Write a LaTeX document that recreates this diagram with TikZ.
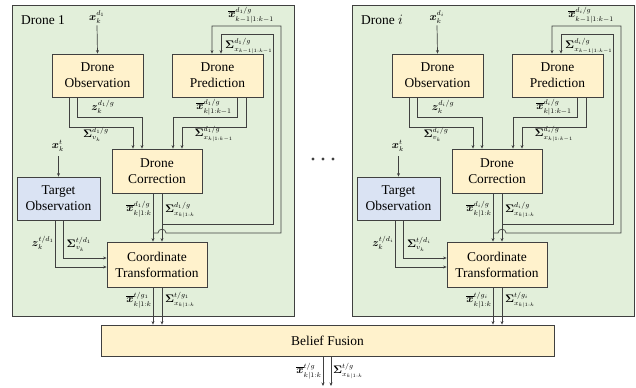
\documentclass[tikz,border=0pt]{standalone}
\usepackage{amsmath,bm}
\usepackage{fontspec}
\setmainfont{Liberation Serif}
\usetikzlibrary{arrows.meta}
\definecolor{panelfill}{HTML}{E2EFDA}
\definecolor{boxfill}{HTML}{FFF2CC}
\definecolor{tgtfill}{HTML}{DAE3F3}
\definecolor{linec}{HTML}{404040}
\newcommand\bxv{\bm{x}}
\newcommand\bzv{\bm{z}}
\newcommand\bSig{\bm{\Sigma}}
\newcommand\xbv{\overline{\bm{x}}}
\tikzset{
 panel/.style={draw=linec, fill=panelfill, line width=0.9pt, inner sep=0pt},
 blockbox/.style={draw=linec, fill=boxfill, line width=0.8pt, align=center,
   font=\fontsize{13.5}{16}\selectfont, inner sep=0pt},
 tgtbox/.style={blockbox, fill=tgtfill},
 lbl/.style={font=\fontsize{10.5}{12}\selectfont, inner sep=0pt},
 ttl/.style={font=\fontsize{13.5}{16}\selectfont, inner sep=0pt},
 conn/.style={draw=linec, line width=0.7pt, -{Stealth[length=3.5pt,width=3pt]}},
}
\newcommand\dronepanel[4]{% #1 xshift, #2 suffix, #3 title, #4 index
\begin{scope}[xshift=#1]
 \node[panel, minimum width=282bp, minimum height=311bp] (pan#2) at (153,160.5) {};
 \node[ttl, anchor=west] (ttl#2) at (21,20) {#3};
 \node[blockbox, minimum width=91bp, minimum height=43bp] (obs#2) at (97.5,75.5) {Drone\\Observation};
 \node[blockbox, minimum width=91bp, minimum height=43bp] (pred#2) at (217.5,75.5) {Drone\\Prediction};
 \node[blockbox, minimum width=90bp, minimum height=44bp] (cor#2) at (157,171) {Drone\\Correction};
 \node[tgtbox, minimum width=83bp, minimum height=43bp] (tobs#2) at (58.5,198.5) {Target\\Observation};
 \node[blockbox, minimum width=100bp, minimum height=45bp] (ct#2) at (157,264.5) {Coordinate\\Transformation};
 % labels
 \node[lbl] (lxd#2) at (97,17) {$\bxv_k^{d_#4}$};
 \node[lbl] (lzd#2) at (103,107) {$\bzv_k^{d_#4/g}$};
 \node[lbl] (lsv#2) at (96,134) {$\bSig_{v_k}^{d_#4/g}$};
 \node[lbl] (lxp#2) at (214,107) {$\xbv_{k|1:k-1}^{d_#4/g}$};
 \node[lbl] (lsp#2) at (214,134) {$\bSig_{x_{k|1:k-1}}^{d_#4/g}$};
 \node[lbl] (lxt#2) at (58,146) {$\bxv_k^{t}$};
 \node[lbl] (lzt#2) at (43,243) {$\bzv_k^{t/d_#4}$};
 \node[lbl] (lst#2) at (79,244) {$\bSig_{v_k}^{t/d_#4}$};
 \node[lbl] (lxc#2) at (139,209) {$\xbv_{k|1:k}^{d_#4/g}$};
 \node[lbl] (lsc#2) at (180,210) {$\bSig_{x_{k|1:k}}^{d_#4/g}$};
 \node[lbl] (lxg#2) at (139,300) {$\xbv_{k|1:k}^{t/g_#4}$};
 \node[lbl] (lsg#2) at (180,300) {$\bSig_{x_{k|1:k}}^{t/g_#4}$};
 \node[lbl] (lxf#2) at (251,15) {$\xbv_{k-1|1:k-1}^{d_#4/g}$};
 \node[lbl] (lsf#2) at (249,46) {$\bSig_{x_{k-1|1:k-1}}^{d_#4/g}$};
 % connectors
 \draw[conn] (lxd#2.south) ++(0,2) -- (obs#2.north);
 \draw[conn] (obs#2.south -| 77,0) |- (142,117) -- (cor#2.north -| 142,0);
 \draw[conn] (obs#2.south -| 69,0) |- (133,127) -- (cor#2.north -| 133,0);
 \draw[conn] (pred#2.south -| 237,0) |- (173,117) -- (cor#2.north -| 173,0);
 \draw[conn] (pred#2.south -| 246,0) |- (182,127) -- (cor#2.north -| 182,0);
 \draw[conn] (tobs#2.north |- 0,156) -- (tobs#2.north);
 \draw[conn] (tobs#2.south -| 55,0) |- (ct#2.west |- 0,267);
 \draw[conn] (tobs#2.south -| 63,0) |- (ct#2.west |- 0,258);
 \draw[conn] (cor#2.south -| 153,0) -- (ct#2.north -| 153,0);
 \draw[conn] (cor#2.south -| 162,0) -- (ct#2.north -| 162,0);
 \coordinate (jx#2) at (153,233);
 \coordinate (js#2) at (162,224);
 \draw[conn] (jx#2) -- (158,233) .. controls (158,228) and (166,228) .. (166,233) -- (281,233) |- (212,26) -- (pred#2.north -| 212,0);
 \draw[conn] (js#2) -- (273,224) |- (221,34) -- (pred#2.north -| 221,0);
\end{scope}}
\begin{document}
\begin{tikzpicture}[x=1bp,y=-1bp]
 \useasboundingbox (0,0) rectangle (636,387);
 \dronepanel{0bp}{a}{Drone 1}{1}
 \dronepanel{340bp}{b}{Drone $i$}{i}
 \node[blockbox, minimum width=453bp, minimum height=31bp] (bf) at (327.5,340.5) {Belief Fusion};
 \foreach \s in {a,b}{
   \draw[conn] (ct\s.south -| jx\s) -- (bf.north -| jx\s);
   \draw[conn] (ct\s.south -| js\s) -- (bf.north -| js\s);
 }
 \coordinate (outx) at (323,386);
 \coordinate (outs) at (331,386);
 \draw[conn] (bf.south -| outx) -- (outx);
 \draw[conn] (bf.south -| outs) -- (outs);
 \node[lbl] (lxo) at (309,371) {$\xbv_{k|1:k}^{t/g}$};
 \node[lbl] (lso) at (348,371) {$\bSig_{x_{k|1:k}}^{t/g}$};
 \foreach \i in {0,1,2} \fill[linec] (313+10*\i,159) circle (1.6bp);
\end{tikzpicture}
\end{document}
